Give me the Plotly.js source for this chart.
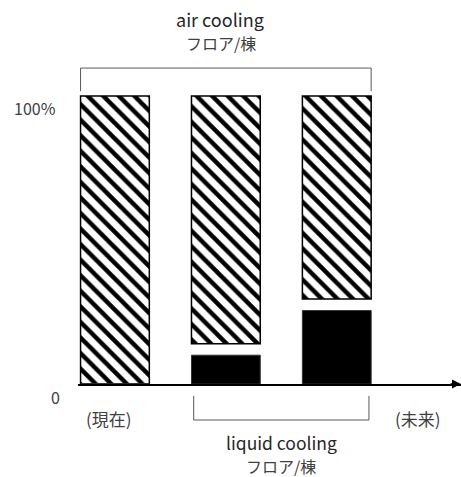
<!DOCTYPE html>
<html>
<head>
<meta charset="utf-8">
<script src="https://cdn.plot.ly/plotly-3.0.1.min.js"></script>
<style>html,body{margin:0;padding:0;background:#fff;}#chart{width:461px;height:477px;}</style>
</head>
<body>
<div id="chart"></div>
<script>
// Data
var stages = [0, 1, 2];                 // 現在 → 未来
var liquidShare = [0, 10, 25.5];        // liquid cooling share (%)
var airShare = [100, 86, 70.5];         // air cooling share (%), stacked from the top
var timeLabels = ['(現在)', '(未来)'];
var airLabel = 'air cooling';
var liquidLabel = 'liquid cooling';
var unitLabel = 'フロア/棟';
var yTickLabels = ['0', '100%'];

var FONT = '"Noto Sans CJK JP", "Noto Sans", sans-serif';
var airBase = airShare.map(function (v) { return 100 - v; });

var traces = [
  {
    type: 'bar', x: stages, y: airShare, base: airBase, width: 0.62,
    marker: {
      color: '#ffffff',
      pattern: { shape: '\\', size: 11, solidity: 0.4, fgcolor: '#000000', bgcolor: '#ffffff', fillmode: 'replace' },
      line: { color: '#000000', width: 1.5 }
    },
    hoverinfo: 'skip', showlegend: false
  },
  {
    type: 'bar', x: stages, y: liquidShare, base: 0, width: 0.62,
    marker: { color: '#000000', line: { color: '#333333', width: 1 } },
    hoverinfo: 'skip', showlegend: false
  }
];

var half = 0.31;
var bc = { color: '#595959', width: 1 };
var layout = {
  width: 461, height: 477,
  margin: { l: 78, r: 0, t: 24, b: 93 },
  paper_bgcolor: '#ffffff', plot_bgcolor: '#ffffff',
  barmode: 'overlay',
  showlegend: false,
  font: { family: FONT, color: '#404040' },
  xaxis: {
    range: [-0.333, 3.12], showgrid: false, zeroline: false,
    showticklabels: false, ticks: '', showline: true, linecolor: '#000000', linewidth: 1.5,
    fixedrange: true
  },
  yaxis: {
    range: [0, 125], showgrid: false, zeroline: false, showline: false,
    showticklabels: false, ticks: '', fixedrange: true
  },
  shapes: [
    // top bracket (air cooling)
    { type: 'line', xref: 'x', yref: 'y', x0: stages[0] - half, x1: stages[0] - half, y0: 101.7, y1: 109.7, line: bc },
    { type: 'line', xref: 'x', yref: 'y', x0: stages[0] - half, x1: stages[2] + half, y0: 109.7, y1: 109.7, line: bc },
    { type: 'line', xref: 'x', yref: 'y', x0: stages[2] + half, x1: stages[2] + half, y0: 101.7, y1: 109.7, line: bc },
    // bottom bracket (liquid cooling)
    { type: 'line', xref: 'x', yref: 'paper', x0: stages[1] - 0.29, x1: stages[1] - 0.29, y0: -0.033, y1: -0.1, line: bc },
    { type: 'line', xref: 'x', yref: 'paper', x0: stages[1] - 0.29, x1: stages[2] + 0.29, y0: -0.1, y1: -0.1, line: bc },
    { type: 'line', xref: 'x', yref: 'paper', x0: stages[2] + 0.29, x1: stages[2] + 0.29, y0: -0.033, y1: -0.1, line: bc }
  ],
  annotations: [
    // axis arrow
    { xref: 'x', yref: 'y', x: 3.12, y: 0, ax: -12, ay: 0, axref: 'pixel', ayref: 'pixel',
      showarrow: true, arrowhead: 2, arrowsize: 1.2, arrowwidth: 1.5, arrowcolor: '#000000', text: '' },
    // y labels
    { xref: 'paper', yref: 'y', x: 0, y: 100, xanchor: 'right', yanchor: 'middle', xshift: -20, yshift: -12,
      text: yTickLabels[1], showarrow: false, font: { size: 16, color: '#404040' } },
    { xref: 'paper', yref: 'y', x: 0, y: 0, xanchor: 'right', yanchor: 'middle', xshift: -16, yshift: -13,
      text: yTickLabels[0], showarrow: false, font: { size: 16, color: '#404040' } },
    // time labels
    { xref: 'x', yref: 'paper', x: -0.056, y: -0.097, xanchor: 'center', yanchor: 'middle',
      text: timeLabels[0], showarrow: false, font: { size: 17, color: '#404040' } },
    { xref: 'x', yref: 'paper', x: 2.73, y: -0.097, xanchor: 'center', yanchor: 'middle',
      text: timeLabels[1], showarrow: false, font: { size: 17, color: '#404040' } },
    // air cooling label
    { xref: 'x', yref: 'paper', x: 0.95, y: 1, xanchor: 'center', yanchor: 'middle', yshift: 5, borderpad: 0,
      text: airLabel, showarrow: false, font: { size: 18, color: '#262626' } },
    { xref: 'x', yref: 'paper', x: 0.96, y: 1, xanchor: 'center', yanchor: 'middle', yshift: -19, borderpad: 0,
      text: unitLabel, showarrow: false, font: { size: 16, color: '#404040' } },
    // liquid cooling label
    { xref: 'x', yref: 'paper', x: 1.5, y: -0.167, xanchor: 'center', yanchor: 'middle', yshift: 2, borderpad: 0,
      text: liquidLabel, showarrow: false, font: { size: 17.5, color: '#262626' } },
    { xref: 'x', yref: 'paper', x: 1.5, y: -0.23, xanchor: 'center', yanchor: 'middle', borderpad: 0, yshift: 1,
      text: unitLabel, showarrow: false, font: { size: 16, color: '#404040' } }
  ]
};

Plotly.newPlot('chart', traces, layout, { displayModeBar: false, staticPlot: true });
</script>
</body>
</html>
